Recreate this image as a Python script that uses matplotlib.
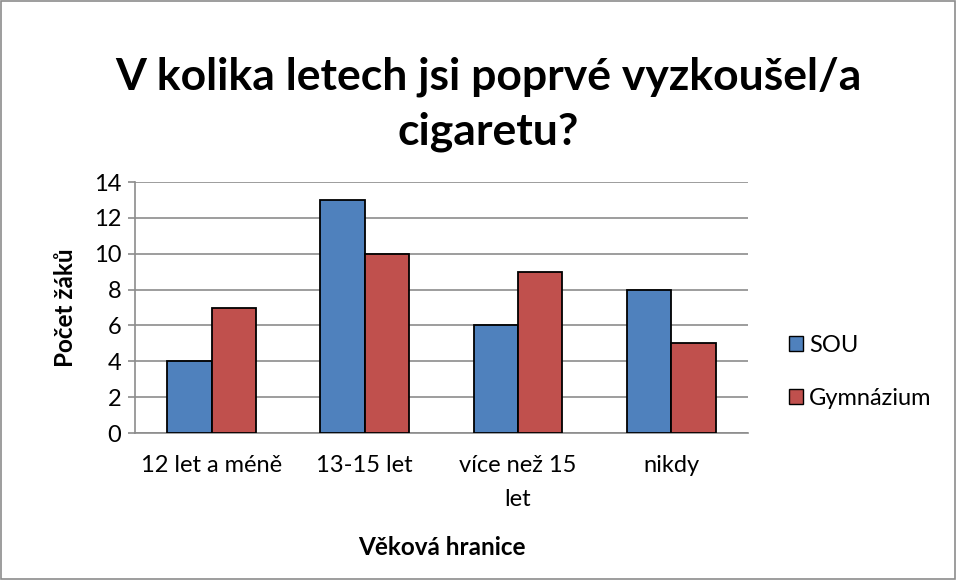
import matplotlib
matplotlib.use("Agg")
import matplotlib.pyplot as plt
import numpy as np

plt.rcParams['font.family'] = ['Lato', 'DejaVu Sans']

categories = ["12 let a méně", "13-15 let", "více než 15\nlet", "nikdy"]
series_names = ["SOU", "Gymnázium"]
sou = [4, 13, 6, 8]
gym = [7, 10, 9, 5]
yticks = [0, 2, 4, 6, 8, 10, 12, 14]
colors = ["#4F81BD", "#C0504D"]

fig = plt.figure(figsize=(9.57, 5.8), dpi=100)
fig.patches.append(plt.Rectangle((0.001, 0.001), 0.997, 0.997, transform=fig.transFigure,
                                 fill=False, edgecolor="#8c8c8c", linewidth=1.2))
ax = fig.add_axes([0.141, 0.2534, 0.6405, 0.4328])

x = np.arange(len(categories))
w = 0.29
ax.bar(x - w/2, sou, w, color=colors[0], edgecolor="black", linewidth=1.3, label=series_names[0], zorder=3)
ax.bar(x + w/2, gym, w, color=colors[1], edgecolor="black", linewidth=1.3, label=series_names[1], zorder=3)

ax.set_xlim(-0.5, len(categories) - 0.5)
ax.set_ylim(0, 14)
ax.set_yticks(yticks)
ax.yaxis.grid(True, color="#8c8c8c", linewidth=1.2, zorder=0)
ax.set_axisbelow(True)
for s in ["top", "right"]:
    ax.spines[s].set_visible(False)
for s in ["left", "bottom"]:
    ax.spines[s].set_color("#8c8c8c")
    ax.spines[s].set_linewidth(1.2)
ax.tick_params(axis="y", length=5, color="#8c8c8c", width=1.2, labelsize=17, pad=5)
ax.tick_params(axis="x", length=0, labelsize=17, pad=16)
ax.set_xticks(x)
ax.set_xticklabels(categories, linespacing=1.75)

ax.set_xlabel("Věková hranice", fontsize=17.5, fontweight="bold", labelpad=19)
ax.set_ylabel("Počet žáků", fontsize=17.5, fontweight="bold", labelpad=12)

fig.text(0.51, 0.82, "V kolika letech jsi poprvé vyzkoušel/a\ncigaretu?", ha="center", va="center",
         fontsize=32, fontweight="bold", linespacing=1.42)

leg = fig.legend(handles=ax.patches[:1] + ax.patches[4:5], labels=series_names,
                 loc="center left", bbox_to_anchor=(0.802, 0.359), frameon=False,
                 fontsize=17, handlelength=0.6, handleheight=0.6, handletextpad=0.25,
                 labelspacing=1.35)
for h in leg.legend_handles:
    h.set_linewidth(1.0)

fig.savefig("out.png", dpi=100)
